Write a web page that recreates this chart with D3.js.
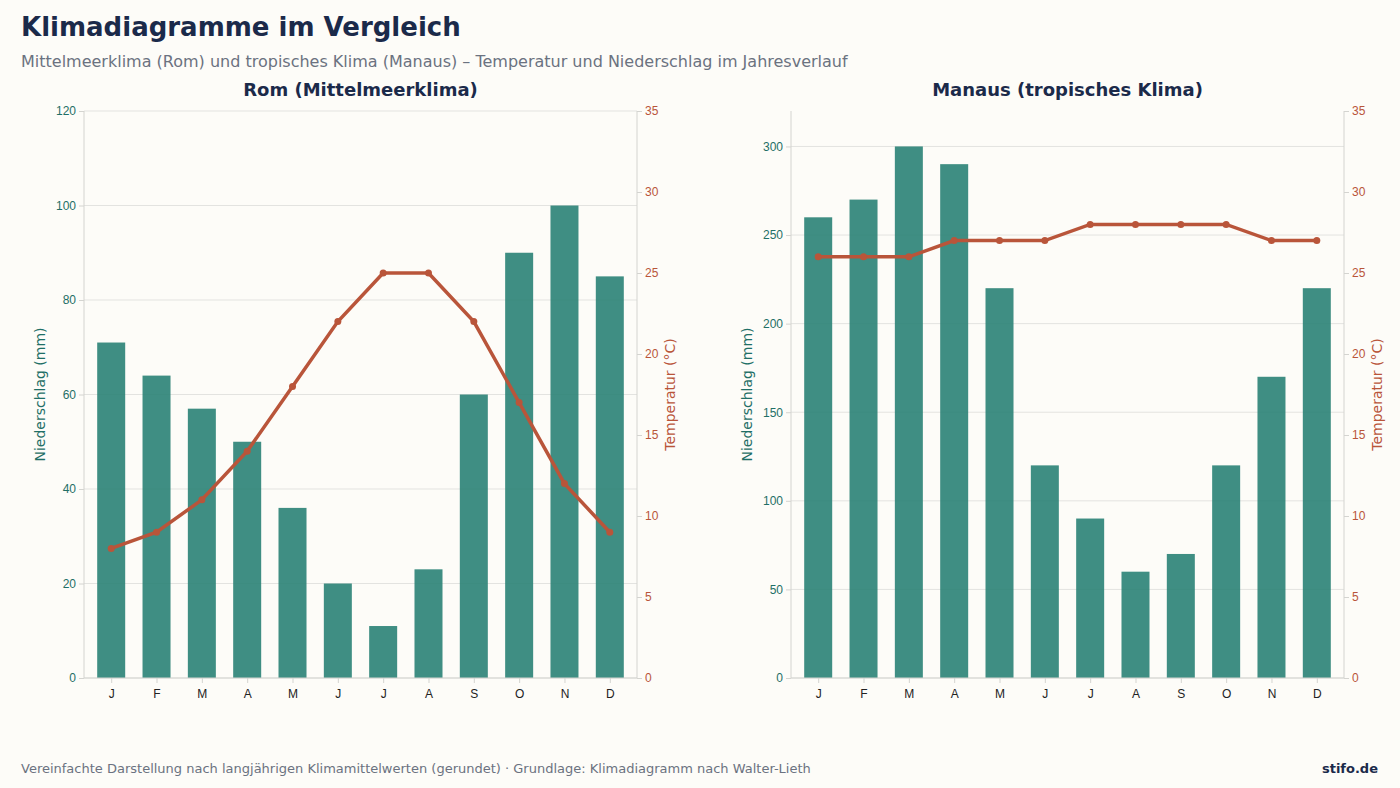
<!DOCTYPE html><html><head><meta charset="utf-8"><script src="https://cdn.jsdelivr.net/npm/d3@7"></script>
<style>body{margin:0;background:#fdfcf8;font-family:"DejaVu Sans",sans-serif}</style></head><body><svg id="c" width="1400" height="788"></svg>
<script>
const months=["J","F","M","A","M","J","J","A","S","O","N","D"];
const romPrecip=[71,64,57,50,36,20,11,23,60,90,100,85];
const romTemp=[8,9,11,14,18,22,25,25,22,17,12,9];
const manPrecip=[260,270,300,290,220,120,90,60,70,120,170,220];
const manTemp=[26,26,26,27,27,27,28,28,28,28,27,27];
const svg=d3.select("#c");
svg.append("rect").attr("width",1400).attr("height",788).attr("fill","#fdfcf8");
svg.append("text").attr("x",21).attr("y",36).text("Klimadiagramme im Vergleich").attr("font-size",26).attr("font-weight","bold").attr("fill","#1b2a4a");
svg.append("text").attr("x",21).attr("y",67).text("Mittelmeerklima (Rom) und tropisches Klima (Manaus) – Temperatur und Niederschlag im Jahresverlauf").attr("font-size",16).attr("fill","#6b7280");
svg.append("text").attr("x",21).attr("y",773).text("Vereinfachte Darstellung nach langjährigen Klimamittelwerten (gerundet) · Grundlage: Klimadiagramm nach Walter-Lieth").attr("font-size",13).attr("fill","#6b7280");
svg.append("text").attr("x",1378).attr("y",773).attr("text-anchor","end").text("stifo.de").attr("font-size",13).attr("font-weight","bold").attr("fill","#1b2a4a");
function chart(x0,x1,title,P,T,pmax,pticks){
 const y0=678,y1=111;
 const g=svg.append("g");
 const x=d3.scalePoint().domain(d3.range(12)).range([x0,x1]).padding(0.6);
 const yp=d3.scaleLinear().domain([0,pmax]).range([y0,y1]);
 const yt=d3.scaleLinear().domain([0,35]).range([y0,y1]);
 g.append("text").attr("x",(x0+x1)/2).attr("y",96).attr("text-anchor","middle").text(title).attr("font-size",18).attr("font-weight","bold").attr("fill","#1b2a4a");
 g.selectAll(".gl").data(pticks).join("line").attr("x1",x0).attr("x2",x1).attr("y1",d=>yp(d)).attr("y2",d=>yp(d)).attr("stroke","#e3e3e0");
 g.selectAll(".b").data(P).join("rect").attr("x",(d,i)=>x(i)-14).attr("width",28).attr("y",d=>yp(d)).attr("height",d=>y0-yp(d)).attr("fill","#2a8276").attr("opacity",0.9);
 const la=g.append("g").attr("transform",`translate(${x0},0)`).call(d3.axisLeft(yp).tickValues(pticks).tickSize(5));
 la.selectAll("text").attr("fill","#1f6f66").attr("font-size",12);
 const ra=g.append("g").attr("transform",`translate(${x1},0)`).call(d3.axisRight(yt).tickValues(d3.range(0,36,5)).tickSize(5));
 ra.selectAll("text").attr("fill","#b9553a").attr("font-size",12);
 const ba=g.append("g").attr("transform",`translate(0,${y0})`).call(d3.axisBottom(x).tickFormat(i=>months[i]).tickSize(5));
 ba.selectAll("text").attr("fill","#222").attr("font-size",12).attr("dy","1em");
 [la,ra,ba].forEach(a=>{a.selectAll("path,line").attr("stroke","#d4d4d0");a.select(".domain").attr("d",a===ba?`M${x0},0H${x1}`:`M0,${y0}V${y1}`);});
 g.append("path").datum(T).attr("d",d3.line().x((d,i)=>x(i)).y(d=>yt(d))).attr("fill","none").attr("stroke","#b9553a").attr("stroke-width",3.5);
 g.selectAll(".p").data(T).join("circle").attr("cx",(d,i)=>x(i)).attr("cy",d=>yt(d)).attr("r",3.5).attr("fill","#b9553a");
 g.append("text").attr("transform",`translate(${x0-39},${(y0+y1)/2}) rotate(-90)`).attr("text-anchor","middle").text("Niederschlag (mm)").attr("font-size",14).attr("fill","#1f6f66");
 g.append("text").attr("transform",`translate(${x1+38},${(y0+y1)/2}) rotate(-90)`).attr("text-anchor","middle").text("Temperatur (°C)").attr("font-size",14).attr("fill","#b9553a");
}
chart(84,637,"Rom (Mittelmeerklima)",romPrecip,romTemp,120,[0,20,40,60,80,100,120]);
chart(791,1344,"Manaus (tropisches Klima)",manPrecip,manTemp,320,[0,50,100,150,200,250,300]);
</script></body></html>
